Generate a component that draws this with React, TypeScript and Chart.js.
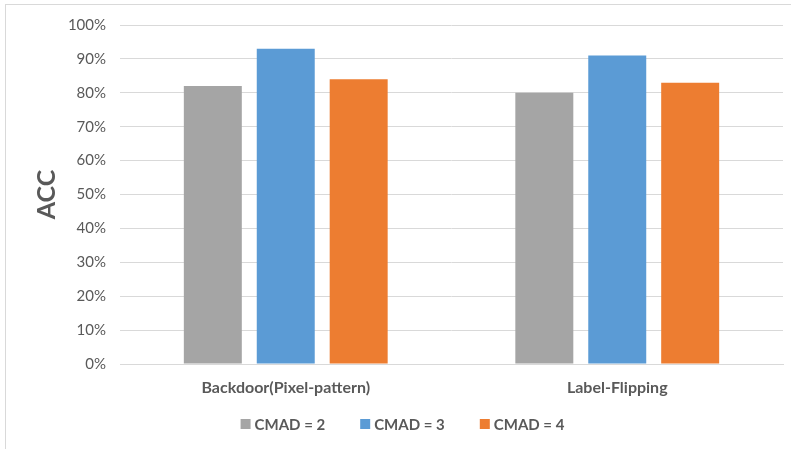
import React, { useEffect, useRef } from "react";
import { Chart, registerables } from "chart.js";

Chart.register(...registerables);

// Attack scenarios on the x axis
const categories = ["Backdoor(Pixel-pattern)", "Label-Flipping"];
// Accuracy (%) for each CMAD setting
const seriesLabels = ["CMAD = 2", "CMAD = 3", "CMAD = 4"];
const cmad2 = [82, 80];
const cmad3 = [93, 91];
const cmad4 = [84, 83];
const seriesColors = ["#A5A5A5", "#5B9BD5", "#ED7D31"];
// Y axis range and step (percent)
const yMin = 0;
const yMax = 100;
const yStep = 10;
const yTitle = "ACC";

const FONT = "Lato, 'Open Sans', sans-serif";
const TEXT_COLOR = "#595959";
const GRID_COLOR = "#D9D9D9";

// Draws the rotated y-axis title and the square-marker legend below the axis.
const decorPlugin = {
  id: "decor",
  afterDraw(chart: any) {
    const ctx = chart.ctx as CanvasRenderingContext2D;
    const area = chart.chartArea;
    ctx.save();

    // y-axis title
    ctx.fillStyle = TEXT_COLOR;
    ctx.font = `bold 25px ${FONT}`;
    ctx.textAlign = "center";
    ctx.textBaseline = "middle";
    ctx.translate(47, (area.top + area.bottom) / 2);
    ctx.rotate(-Math.PI / 2);
    ctx.fillText(yTitle, 0, 0);
    ctx.setTransform(1, 0, 0, 1, 0, 0);

    // legend
    ctx.font = `bold 15px ${FONT}`;
    ctx.textAlign = "left";
    ctx.textBaseline = "middle";
    const box = 10;
    const gapText = 4;
    const gapItem = 35;
    const items = chart.data.datasets.map((ds: any) => ({
      text: ds.label as string,
      color: ds.backgroundColor as string,
      w: ctx.measureText(ds.label).width,
    }));
    const total =
      items.reduce((s: number, it: any) => s + box + gapText + it.w, 0) +
      gapItem * (items.length - 1);
    let x = chart.width / 2 + 7 - total / 2;
    const y = 424;
    items.forEach((it: any) => {
      ctx.fillStyle = it.color;
      ctx.fillRect(x, y - box / 2, box, box);
      ctx.fillStyle = TEXT_COLOR;
      ctx.fillText(it.text, x + box + gapText, y + 1);
      x += box + gapText + it.w + gapItem;
    });
    ctx.restore();
  },
};

export default function App() {
  const canvasRef = useRef<HTMLCanvasElement>(null);

  useEffect(() => {
    const canvas = canvasRef.current;
    if (!canvas) return;
    const seriesData = [cmad2, cmad3, cmad4];
    const chart = new Chart(canvas, {
      type: "bar",
      data: {
        labels: categories,
        datasets: seriesLabels.map((label, i) => ({
          label,
          data: seriesData[i],
          backgroundColor: seriesColors[i],
          borderWidth: 0,
          barPercentage: 0.795,
          categoryPercentage: 0.66,
        })),
      },
      options: {
        animation: false,
        responsive: false,
        maintainAspectRatio: false,
        layout: { padding: { top: 25, right: 8, bottom: 0, left: 0 } },
        plugins: {
          legend: { display: false },
          tooltip: { enabled: false },
        },
        scales: {
          x: {
            grid: { display: false, drawTicks: false },
            border: { display: true, color: GRID_COLOR, width: 1 },
            ticks: {
              color: TEXT_COLOR,
              font: { family: FONT, size: 16, weight: "bold" },
              padding: 14,
              maxRotation: 0,
            },
            afterFit(scale: any) {
              scale.height = 85;
            },
          },
          y: {
            min: yMin,
            max: yMax,
            grid: { color: GRID_COLOR, lineWidth: 1, drawTicks: false },
            border: { display: false },
            ticks: {
              stepSize: yStep,
              color: TEXT_COLOR,
              font: { family: FONT, size: 15 },
              padding: 14,
              callback: (v: any) => `${v}%`,
            },
            afterFit(scale: any) {
              scale.width = 120;
            },
          },
        },
      },
      plugins: [decorPlugin],
    });
    return () => chart.destroy();
  }, []);

  return (
    <div
      style={{
        position: "fixed",
        left: 0,
        top: 0,
        width: 791,
        height: 449,
        overflow: "hidden",
        background: "#ffffff",
      }}
    >
      <div
        style={{
          position: "absolute",
          left: 5,
          top: 4,
          width: 820,
          height: 500,
          border: "1px solid #D9D9D9",
          boxSizing: "border-box",
        }}
      />
      <canvas
        ref={canvasRef}
        width={791}
        height={449}
        style={{ position: "absolute", left: 0, top: 0, display: "block" }}
      />
    </div>
  );
}
